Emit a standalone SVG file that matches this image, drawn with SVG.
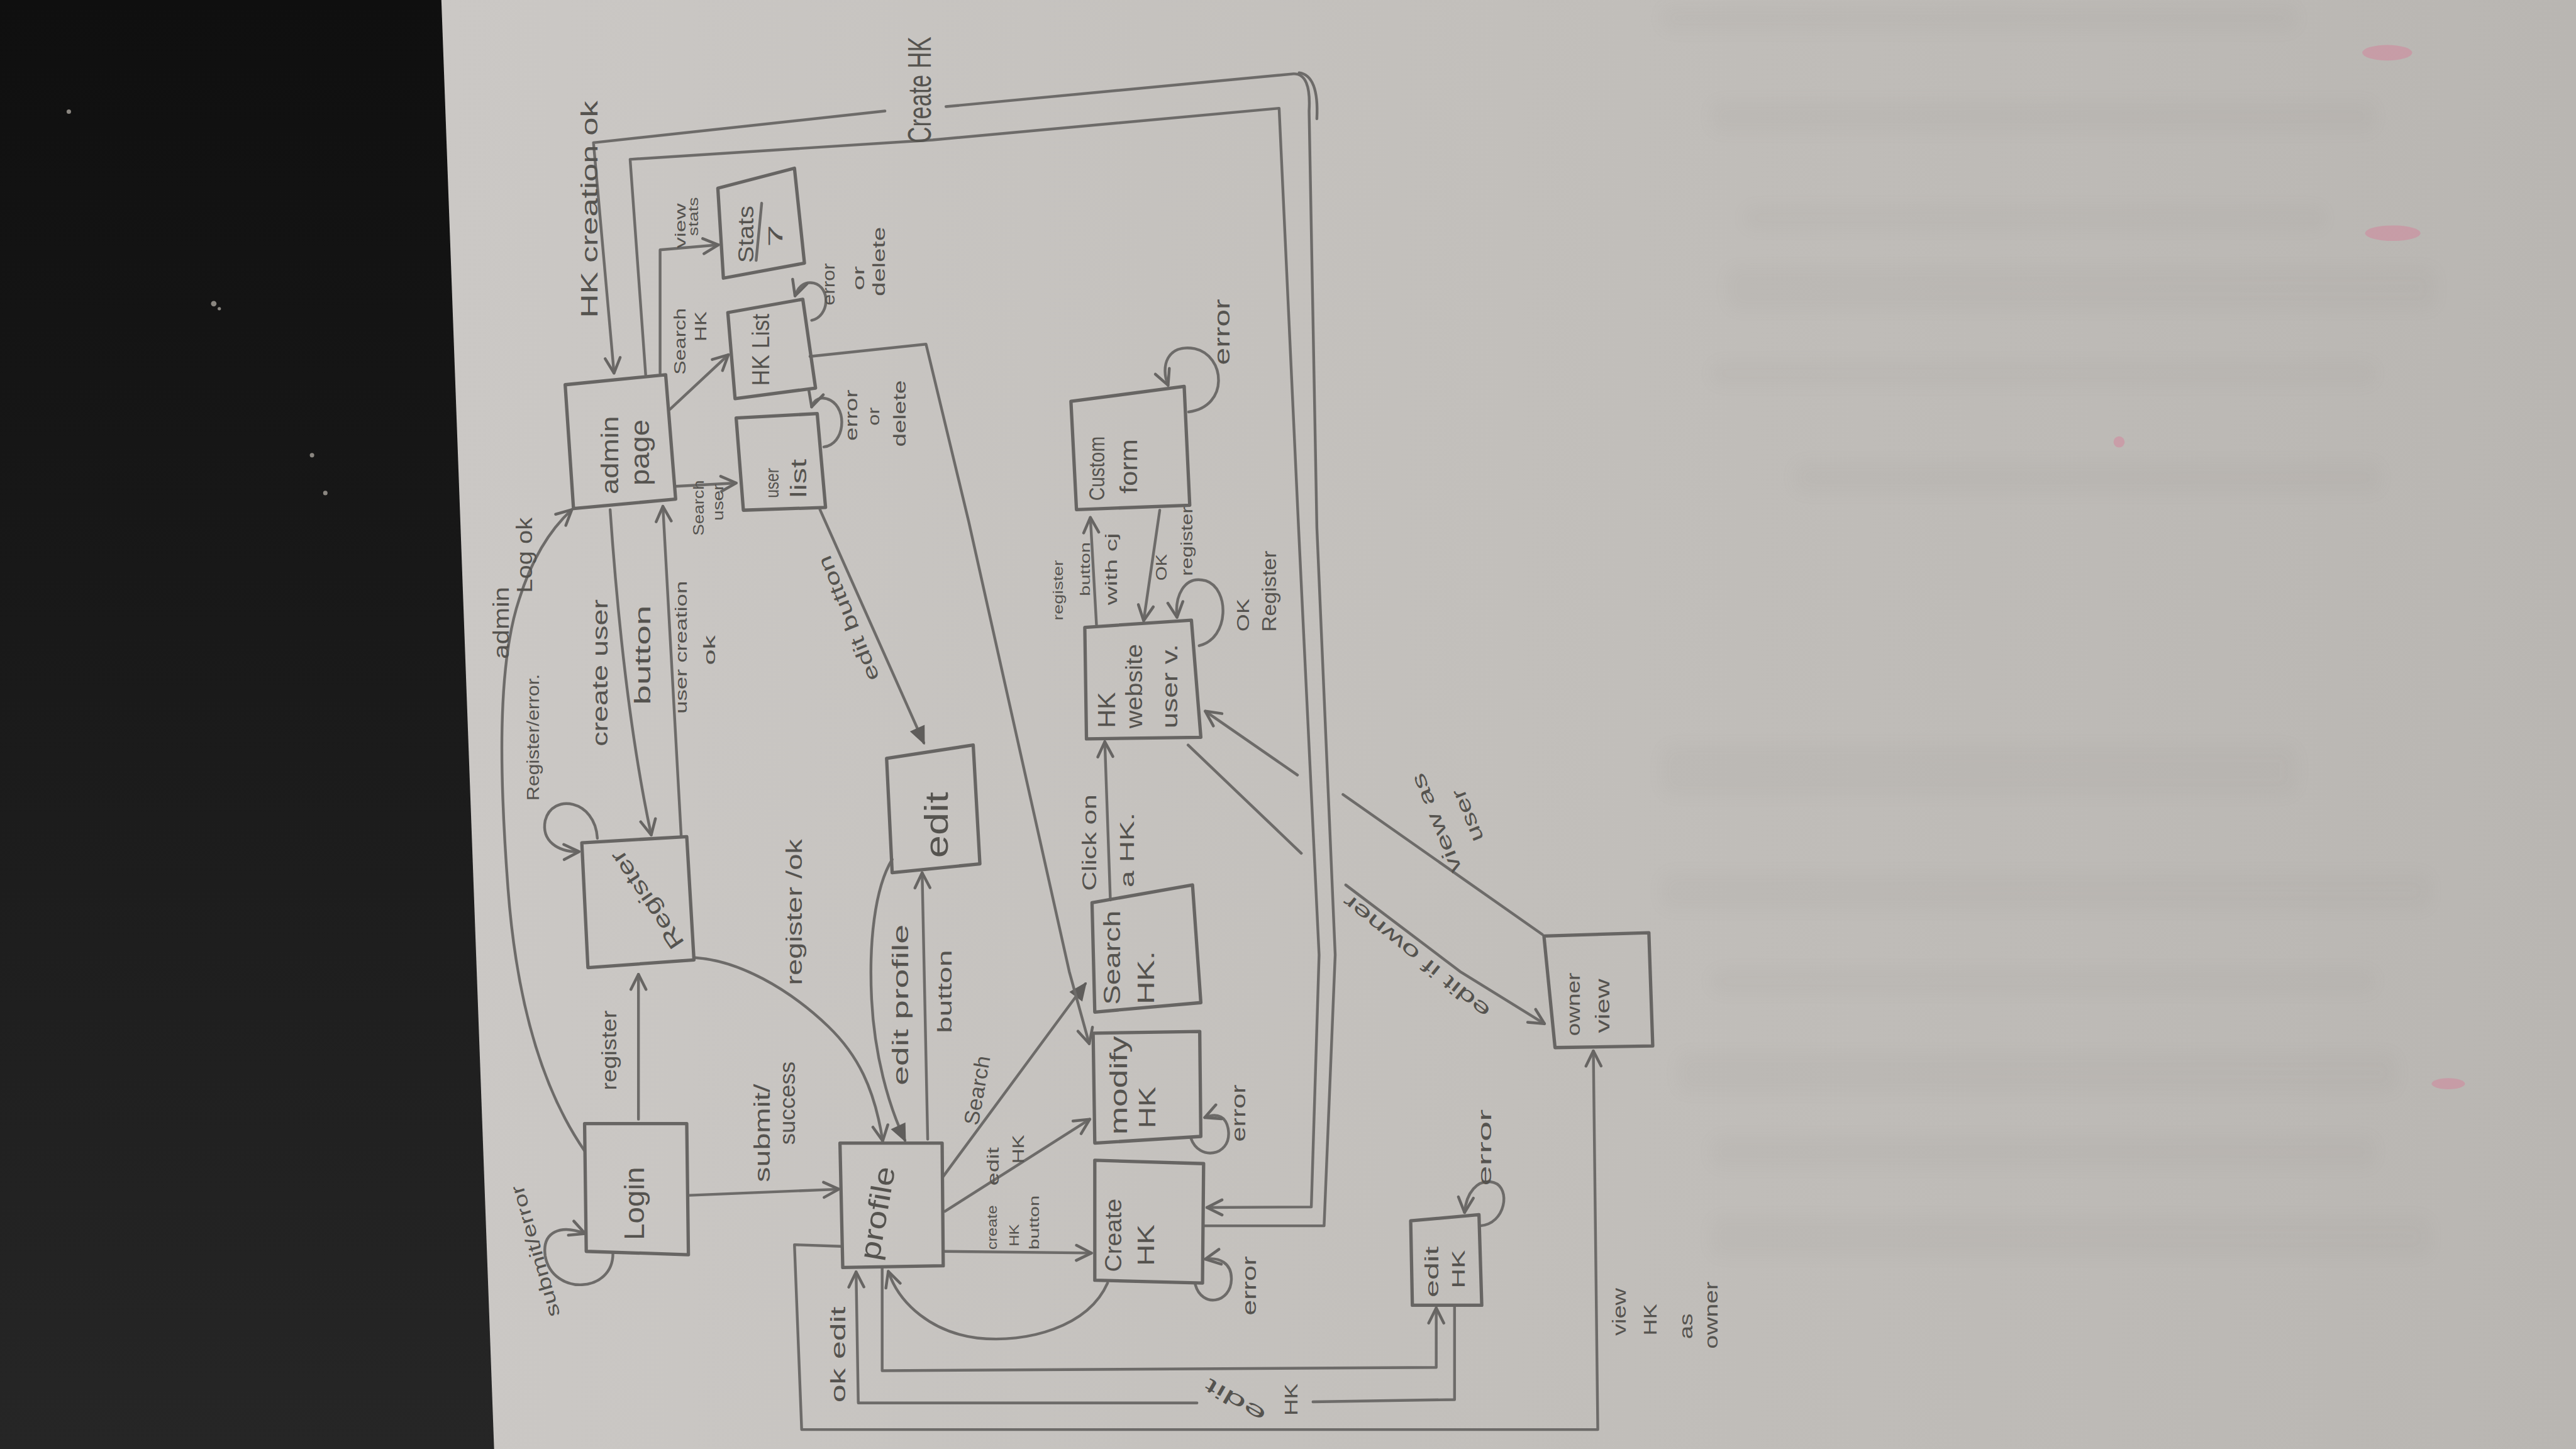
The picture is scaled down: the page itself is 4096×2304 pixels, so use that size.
<svg xmlns="http://www.w3.org/2000/svg" width="4096" height="2304" viewBox="0 0 4096 2304">
<defs>
<linearGradient id="paper" x1="800" y1="0" x2="4640" y2="0" gradientUnits="userSpaceOnUse">
<stop offset="0" stop-color="#cbc8c5"/><stop offset="0.5" stop-color="#c2bfbb"/><stop offset="1" stop-color="#b9b6b2"/>
</linearGradient>
<linearGradient id="dark" x1="0" y1="0" x2="0" y2="2610" gradientUnits="userSpaceOnUse">
<stop offset="0" stop-color="#0f0f0f"/><stop offset="1" stop-color="#262626"/>
</linearGradient>
<filter id="blur" x="-10%" y="-80%" width="120%" height="260%"><feGaussianBlur stdDeviation="14"/></filter>
<marker id="ah" viewBox="0 0 20 20" refX="18" refY="10" markerWidth="34" markerHeight="34" markerUnits="userSpaceOnUse" orient="auto">
<path d="M2,2 L18,10 L2,18" fill="none" stroke="#676563" stroke-width="3" stroke-linecap="round" stroke-linejoin="round"/>
</marker>
<marker id="ahf" viewBox="0 0 20 20" refX="18" refY="10" markerWidth="34" markerHeight="34" markerUnits="userSpaceOnUse" orient="auto">
<path d="M2,3 L18,10 L2,17 Z" fill="#5f5d5b" stroke="#5f5d5b" stroke-width="2"/>
</marker>
<style>
.box{fill:none;stroke:#676563;stroke-width:6;stroke-linejoin:round}
.ln{fill:none;stroke:#6d6b69;stroke-width:5;stroke-linecap:round;stroke-linejoin:round}
.arr{marker-end:url(#ah)}
.arf{marker-end:url(#ahf)}
.t{font-family:"Liberation Sans","DejaVu Sans",sans-serif;fill:#55534f;text-anchor:middle;dominant-baseline:central}
.ts{font-family:"Liberation Sans","DejaVu Sans",sans-serif;fill:#55534f;text-anchor:start}
</style>
</defs>
<g transform="scale(0.882759)">
<rect width="4640" height="2610" fill="url(#paper)"/>
<polygon points="0,0 795,0 890,2610 0,2610" fill="url(#dark)"/>
<g fill="#8a8680">
<circle cx="124" cy="201" r="4"/><circle cx="385" cy="547" r="5"/><circle cx="395" cy="556" r="3"/><circle cx="562" cy="820" r="4"/><circle cx="586" cy="888" r="4"/>
</g>
<g fill="#6f6b66" opacity="0.045" filter="url(#blur)">
<rect x="2990" y="8" width="1150" height="50" rx="20"/>
<rect x="3080" y="180" width="1200" height="60" rx="20"/>
<rect x="3140" y="370" width="1050" height="45" rx="20"/>
<rect x="3110" y="480" width="1280" height="80" rx="20"/>
<rect x="3080" y="650" width="1200" height="45" rx="20"/>
<rect x="3230" y="830" width="1060" height="60" rx="20"/>
<rect x="2990" y="1340" width="1150" height="95" rx="25"/>
<rect x="2990" y="1570" width="1390" height="70" rx="20"/>
<rect x="3080" y="1745" width="1200" height="45" rx="20"/>
<rect x="3020" y="1895" width="1300" height="75" rx="20"/>
<rect x="3080" y="2045" width="1200" height="60" rx="20"/>
<rect x="3080" y="2190" width="1300" height="75" rx="20"/>
</g>
<g fill="#e06a90" opacity="0.35">
<ellipse cx="4300" cy="95" rx="45" ry="14"/><ellipse cx="4310" cy="420" rx="50" ry="14"/><ellipse cx="3817" cy="796" rx="10" ry="10"/><ellipse cx="4410" cy="1952" rx="30" ry="10"/>
</g>

<g id="connectors">
<path class="ln arr" d="M1053,2073 C975,1960 930,1800 915,1600 C900,1400 895,1200 935,1080 C960,1000 995,950 1030,918"/>
<path class="ln arr" d="M1150,2016 L1150,1755"/>
<path class="ln arr" d="M1242,2153 L1511,2142"/>
<path class="ln arr" d="M1104,2256 C1106,2330 995,2335 982,2262 C976,2218 1010,2205 1054,2222"/>
<path class="ln arr" d="M1076,1510 C1072,1440 995,1428 982,1478 C975,1515 1005,1535 1043,1534"/>
<path class="ln arr" d="M1099,918 C1115,1150 1140,1350 1173,1504"/>
<path class="ln arr" d="M1227,1506 L1194,912"/>
<path class="ln arr" d="M1217,876 L1326,870"/>
<path class="ln arr" d="M1207,737 L1312,639"/>
<path class="ln arr" d="M1189,672 L1189,450 L1294,441"/>
<path class="ln arr" d="M1462,577 C1494,570 1497,518 1466,510 C1448,506 1437,518 1432,533"/>
<path class="ln arr" d="M1484,805 C1522,800 1527,738 1496,721 C1478,712 1466,720 1462,733"/>
<path class="ln arr" d="M2168,2208 L2385,2208 L2405,1720 L2372,950 L2358,200 Q2362,132 2330,133 L1704,192 M1594,200 L1069,257 L1106,672"/>
<path class="ln" d="M2340,131 Q2376,136 2372,214"/>
<path class="ln arr" d="M1163,675 L1135,287 L1680,252 L2304,195 L2339,950 L2376,1720 L2362,2174 L2174,2175"/>
<path class="ln arf" d="M1477,918 L1664,1338"/>
<path class="ln arr" d="M1671,2052 L1661,1572"/>
<path class="ln arf" d="M1607,1548 C1575,1600 1565,1700 1570,1800 C1575,1900 1600,1990 1630,2054"/>
<path class="ln arr" d="M1252,1725 C1330,1730 1420,1780 1492,1849 C1545,1900 1575,1960 1590,2055"/>
<path class="ln arf" d="M1699,2119 L1955,1772"/>
<path class="ln arr" d="M1702,2182 L1963,2016"/>
<path class="ln arr" d="M1699,2254 L1966,2257"/>
<path class="ln arr" d="M1995,2311 C1960,2390 1850,2420 1760,2410 C1680,2400 1620,2350 1600,2290"/>
<path class="ln arr" d="M1459,642 L1668,620 L1745,940 C1790,1150 1860,1450 1926,1750 L1962,1880"/>
<path class="ln arr" d="M2000,1621 L1990,1336"/>
<path class="ln arr" d="M1975,1125 L1964,932"/>
<path class="ln arr" d="M2089,919 L2060,1118"/>
<path class="ln arr" d="M2141,742 C2215,732 2207,640 2152,628 C2102,619 2090,660 2104,694"/>
<path class="ln arr" d="M2160,1163 C2215,1150 2215,1060 2172,1046 C2132,1035 2116,1075 2120,1112"/>
<path class="ln arr" d="M2145,2050 C2160,2092 2215,2082 2213,2040 C2211,2010 2192,2004 2170,2013"/>
<path class="ln arr" d="M2153,2314 C2165,2357 2217,2347 2218,2305 C2219,2275 2196,2264 2171,2268"/>
<path class="ln arr" d="M2666,2208 C2712,2205 2722,2140 2691,2130 C2660,2122 2641,2150 2638,2184"/>
<path class="ln arr" d="M2778,1683 L2419,1431 M2337,1396 L2171,1281"/>
<path class="ln arr" d="M2140,1342 L2344,1537 M2424,1594 L2630,1750 L2782,1844"/>
<path class="ln arr" d="M1589,2285 L1589,2469 L2587,2463 L2587,2356"/>
<path class="ln arr" d="M2620,2354 L2620,2521 L2365,2525 M2156,2527 L1546,2527 L1542,2291"/>
<path class="ln arr" d="M1515,2245 L1431,2242 L1444,2575 L2878,2575 L2870,1893"/>

<text class="t" transform="translate(1062,377) rotate(-90)" font-size="42" textLength="391" lengthAdjust="spacingAndGlyphs">HK creation ok</text>
<text class="ts" transform="translate(1676,258) rotate(-90)" font-size="58" textLength="192" lengthAdjust="spacingAndGlyphs">Create HK</text>
<text class="t" transform="translate(902,1122) rotate(-90)" font-size="40" textLength="130" lengthAdjust="spacingAndGlyphs">admin</text>
<text class="t" transform="translate(944,1000) rotate(-90)" font-size="40" textLength="136" lengthAdjust="spacingAndGlyphs">Log ok</text>
<text class="t" transform="translate(959,1328) rotate(-90)" font-size="32" textLength="228" lengthAdjust="spacingAndGlyphs">Register/error.</text>
<text class="t" transform="translate(1080,1212) rotate(-90)" font-size="40" textLength="265" lengthAdjust="spacingAndGlyphs">create user</text>
<text class="t" transform="translate(1157,1180) rotate(-90)" font-size="40" textLength="179" lengthAdjust="spacingAndGlyphs">button</text>
<text class="t" transform="translate(1227,1166) rotate(-90)" font-size="30" textLength="239" lengthAdjust="spacingAndGlyphs">user creation</text>
<text class="t" transform="translate(1278,1171) rotate(-90)" font-size="30" textLength="54" lengthAdjust="spacingAndGlyphs">ok</text>
<text class="t" transform="translate(1258,915) rotate(-90)" font-size="28" textLength="100" lengthAdjust="spacingAndGlyphs">Search</text>
<text class="t" transform="translate(1293,905) rotate(-90)" font-size="28" textLength="66" lengthAdjust="spacingAndGlyphs">user</text>
<text class="t" transform="translate(1225,615) rotate(-90)" font-size="30" textLength="120" lengthAdjust="spacingAndGlyphs">Search</text>
<text class="t" transform="translate(1262,588) rotate(-90)" font-size="30" textLength="54" lengthAdjust="spacingAndGlyphs">HK</text>
<text class="t" transform="translate(1225,407) rotate(-90)" font-size="28" textLength="81" lengthAdjust="spacingAndGlyphs">view</text>
<text class="t" transform="translate(1248,390) rotate(-90)" font-size="26" textLength="70" lengthAdjust="spacingAndGlyphs">stats</text>
<text class="t" transform="translate(1492,512) rotate(-90)" font-size="32" textLength="76" lengthAdjust="spacingAndGlyphs">error</text>
<text class="t" transform="translate(1546,501) rotate(-90)" font-size="30" textLength="44" lengthAdjust="spacingAndGlyphs">or</text>
<text class="t" transform="translate(1582,471) rotate(-90)" font-size="32" textLength="125" lengthAdjust="spacingAndGlyphs">delete</text>
<text class="t" transform="translate(1533,748) rotate(-90)" font-size="32" textLength="92" lengthAdjust="spacingAndGlyphs">error</text>
<text class="t" transform="translate(1574,750) rotate(-90)" font-size="30" textLength="33" lengthAdjust="spacingAndGlyphs">or</text>
<text class="t" transform="translate(1620,745) rotate(-90)" font-size="32" textLength="120" lengthAdjust="spacingAndGlyphs">delete</text>
<text class="t" transform="translate(1528,1114) rotate(-112)" font-size="36" textLength="240" lengthAdjust="spacingAndGlyphs">edit button</text>
<text class="t" transform="translate(1097,1892) rotate(-90)" font-size="38" textLength="144" lengthAdjust="spacingAndGlyphs">register</text>
<text class="t" transform="translate(1372,2041) rotate(-90)" font-size="40" textLength="177" lengthAdjust="spacingAndGlyphs">submit/</text>
<text class="t" transform="translate(1418,1987) rotate(-90)" font-size="40" textLength="150" lengthAdjust="spacingAndGlyphs">success</text>
<text class="t" transform="translate(964,2254) rotate(-106)" font-size="34" textLength="245" lengthAdjust="spacingAndGlyphs">submit/error</text>
<text class="t" transform="translate(1430,1643) rotate(-90)" font-size="40" textLength="263" lengthAdjust="spacingAndGlyphs">register /ok</text>
<text class="t" transform="translate(1622,1810) rotate(-90)" font-size="40" textLength="290" lengthAdjust="spacingAndGlyphs">edit profile</text>
<text class="t" transform="translate(1702,1786) rotate(-90)" font-size="36" textLength="150" lengthAdjust="spacingAndGlyphs">button</text>
<text class="t" transform="translate(1760,1964) rotate(-80)" font-size="38" textLength="126" lengthAdjust="spacingAndGlyphs">Search</text>
<text class="t" transform="translate(1789,2101) rotate(-90)" font-size="30" textLength="69" lengthAdjust="spacingAndGlyphs">edit</text>
<text class="t" transform="translate(1834,2070) rotate(-90)" font-size="30" textLength="52" lengthAdjust="spacingAndGlyphs">HK</text>
<text class="t" transform="translate(1786,2211) rotate(-90)" font-size="26" textLength="80" lengthAdjust="spacingAndGlyphs">create</text>
<text class="t" transform="translate(1827,2225) rotate(-90)" font-size="24" textLength="40" lengthAdjust="spacingAndGlyphs">HK</text>
<text class="t" transform="translate(1862,2202) rotate(-90)" font-size="26" textLength="98" lengthAdjust="spacingAndGlyphs">button</text>
<text class="t" transform="translate(2230,2005) rotate(-90)" font-size="36" textLength="103" lengthAdjust="spacingAndGlyphs">error</text>
<text class="t" transform="translate(2250,2316) rotate(-90)" font-size="36" textLength="107" lengthAdjust="spacingAndGlyphs">error</text>
<text class="t" transform="translate(1510,2440) rotate(-90)" font-size="38" textLength="173" lengthAdjust="spacingAndGlyphs">ok edit</text>
<text class="t" transform="translate(2225,2523) rotate(-150)" font-size="36" textLength="120" lengthAdjust="spacingAndGlyphs">edit</text>
<text class="t" transform="translate(2325,2521) rotate(-90)" font-size="34" textLength="58" lengthAdjust="spacingAndGlyphs">HK</text>
<text class="t" transform="translate(1962,1518) rotate(-90)" font-size="36" textLength="174" lengthAdjust="spacingAndGlyphs">Click on</text>
<text class="t" transform="translate(2030,1531) rotate(-90)" font-size="36" textLength="135" lengthAdjust="spacingAndGlyphs">a HK.</text>
<text class="t" transform="translate(1905,1063) rotate(-90)" font-size="26" textLength="109" lengthAdjust="spacingAndGlyphs">register</text>
<text class="t" transform="translate(1954,1025) rotate(-90)" font-size="26" textLength="97" lengthAdjust="spacingAndGlyphs">button</text>
<text class="t" transform="translate(2002,1025) rotate(-90)" font-size="30" textLength="130" lengthAdjust="spacingAndGlyphs">with cj</text>
<text class="t" transform="translate(2092,1022) rotate(-90)" font-size="28" textLength="48" lengthAdjust="spacingAndGlyphs">OK</text>
<text class="t" transform="translate(2138,975) rotate(-90)" font-size="30" textLength="125" lengthAdjust="spacingAndGlyphs">register</text>
<text class="t" transform="translate(2238,1108) rotate(-90)" font-size="32" textLength="59" lengthAdjust="spacingAndGlyphs">OK</text>
<text class="t" transform="translate(2286,1065) rotate(-90)" font-size="36" textLength="146" lengthAdjust="spacingAndGlyphs">Register</text>
<text class="t" transform="translate(2200,598) rotate(-90)" font-size="40" textLength="119" lengthAdjust="spacingAndGlyphs">error</text>
<text class="t" transform="translate(2587,1483) rotate(-112)" font-size="36" textLength="190" lengthAdjust="spacingAndGlyphs">view as</text>
<text class="t" transform="translate(2643,1469) rotate(-112)" font-size="36" textLength="100" lengthAdjust="spacingAndGlyphs">user</text>
<text class="t" transform="translate(2551,1723) rotate(-141)" font-size="36" textLength="330" lengthAdjust="spacingAndGlyphs">edit if owner</text>
<text class="t" transform="translate(2674,2067) rotate(-90)" font-size="34" textLength="138" lengthAdjust="spacingAndGlyphs">error</text>
<text class="t" transform="translate(2916,2363) rotate(-90)" font-size="34" textLength="86" lengthAdjust="spacingAndGlyphs">view</text>
<text class="t" transform="translate(2972,2377) rotate(-90)" font-size="34" textLength="57" lengthAdjust="spacingAndGlyphs">HK</text>
<text class="t" transform="translate(3036,2389) rotate(-90)" font-size="34" textLength="46" lengthAdjust="spacingAndGlyphs">as</text>
<text class="t" transform="translate(3082,2369) rotate(-90)" font-size="34" textLength="121" lengthAdjust="spacingAndGlyphs">owner</text>
</g>

<g id="n-login"><polygon class="box" points="1053,2024 1237,2024 1240,2260 1056,2254"/>
<text class="t" transform="translate(1143,2168) rotate(-90)" font-size="50" textLength="132" lengthAdjust="spacingAndGlyphs">Login</text></g>
<g id="n-register"><polygon class="box" points="1048,1518 1237,1507 1250,1729 1059,1743"/>
<text class="t" transform="translate(1165,1621) rotate(-124)" font-size="40" textLength="205" lengthAdjust="spacingAndGlyphs">Register</text></g>
<g id="n-admin"><polygon class="box" points="1018,693 1199,675 1217,899 1033,916"/>
<text class="t" transform="translate(1098,820) rotate(-90)" font-size="44" textLength="141" lengthAdjust="spacingAndGlyphs">admin</text>
<text class="t" transform="translate(1153,815) rotate(-90)" font-size="48" textLength="119" lengthAdjust="spacingAndGlyphs">page</text></g>
<g id="n-profile"><polygon class="box" points="1513,2059 1697,2059 1699,2280 1518,2283"/>
<text class="t" transform="translate(1580,2185) rotate(-80)" font-size="52" textLength="170" lengthAdjust="spacingAndGlyphs">profile</text></g>
<g id="n-edit"><polygon class="box" points="1597,1366 1753,1342 1765,1556 1607,1572"/>
<text class="t" transform="translate(1687,1486) rotate(-90)" font-size="58" textLength="119" lengthAdjust="spacingAndGlyphs">edit</text></g>
<g id="n-userlist"><polygon class="box" points="1326,753 1472,745 1487,914 1339,919"/>
<text class="t" transform="translate(1390,870) rotate(-90)" font-size="34" textLength="54" lengthAdjust="spacingAndGlyphs">user</text>
<text class="t" transform="translate(1438,862) rotate(-90)" font-size="40" textLength="70" lengthAdjust="spacingAndGlyphs">list</text></g>
<g id="n-hklist"><polygon class="box" points="1311,563 1446,539 1469,699 1324,718"/>
<text class="t" transform="translate(1370,630) rotate(-90)" font-size="44" textLength="130" lengthAdjust="spacingAndGlyphs">HK List</text></g>
<g id="n-stats"><polygon class="box" points="1293,339 1431,303 1449,474 1303,501"/>
<text class="t" transform="translate(1343,422) rotate(-90)" font-size="40" textLength="103" lengthAdjust="spacingAndGlyphs">Stats</text>
<path class="ln" d="M1362,469 L1372,366"/>
<text class="t" transform="translate(1397,425) rotate(-90)" font-size="36" textLength="40" lengthAdjust="spacingAndGlyphs">7</text></g>
<g id="n-customform"><polygon class="box" points="1929,723 2133,696 2143,910 1939,918"/>
<text class="t" transform="translate(1975,844) rotate(-90)" font-size="40" textLength="116" lengthAdjust="spacingAndGlyphs">Custom</text>
<text class="t" transform="translate(2033,840) rotate(-90)" font-size="44" textLength="98" lengthAdjust="spacingAndGlyphs">form</text></g>
<g id="n-hkwebsite"><polygon class="box" points="1954,1130 2146,1117 2163,1328 1957,1331"/>
<text class="t" transform="translate(1993,1279) rotate(-90)" font-size="44" textLength="65" lengthAdjust="spacingAndGlyphs">HK</text>
<text class="t" transform="translate(2043,1236) rotate(-90)" font-size="42" textLength="152" lengthAdjust="spacingAndGlyphs">website</text>
<text class="t" transform="translate(2107,1236) rotate(-90)" font-size="40" textLength="152" lengthAdjust="spacingAndGlyphs">user v.</text></g>
<g id="n-searchhk"><polygon class="box" points="1967,1626 2148,1594 2163,1806 1972,1823"/>
<text class="t" transform="translate(2003,1725) rotate(-90)" font-size="42" textLength="170" lengthAdjust="spacingAndGlyphs">Search</text>
<text class="t" transform="translate(2064,1761) rotate(-90)" font-size="42" textLength="96" lengthAdjust="spacingAndGlyphs">HK.</text></g>
<g id="n-modifyhk"><polygon class="box" points="1969,1861 2161,1858 2163,2047 1972,2059"/>
<text class="t" transform="translate(2015,1955) rotate(-90)" font-size="44" textLength="178" lengthAdjust="spacingAndGlyphs">modify</text>
<text class="t" transform="translate(2066,1995) rotate(-90)" font-size="42" textLength="75" lengthAdjust="spacingAndGlyphs">HK</text></g>
<g id="n-createhk"><polygon class="box" points="1972,2090 2168,2096 2166,2311 1972,2306"/>
<text class="t" transform="translate(2005,2225) rotate(-90)" font-size="42" textLength="132" lengthAdjust="spacingAndGlyphs">Create</text>
<text class="t" transform="translate(2064,2243) rotate(-90)" font-size="42" textLength="75" lengthAdjust="spacingAndGlyphs">HK</text></g>
<g id="n-edithk"><polygon class="box" points="2541,2199 2664,2188 2669,2351 2544,2351"/>
<text class="t" transform="translate(2579,2291) rotate(-90)" font-size="34" textLength="92" lengthAdjust="spacingAndGlyphs">edit</text>
<text class="t" transform="translate(2626,2286) rotate(-90)" font-size="34" textLength="69" lengthAdjust="spacingAndGlyphs">HK</text></g>
<g id="n-ownerview"><polygon class="box" points="2781,1686 2970,1680 2977,1884 2801,1887"/>
<text class="t" transform="translate(2834,1809) rotate(-90)" font-size="34" textLength="114" lengthAdjust="spacingAndGlyphs">owner</text>
<text class="t" transform="translate(2886,1812) rotate(-90)" font-size="36" textLength="98" lengthAdjust="spacingAndGlyphs">view</text></g>
</g>
</svg>
